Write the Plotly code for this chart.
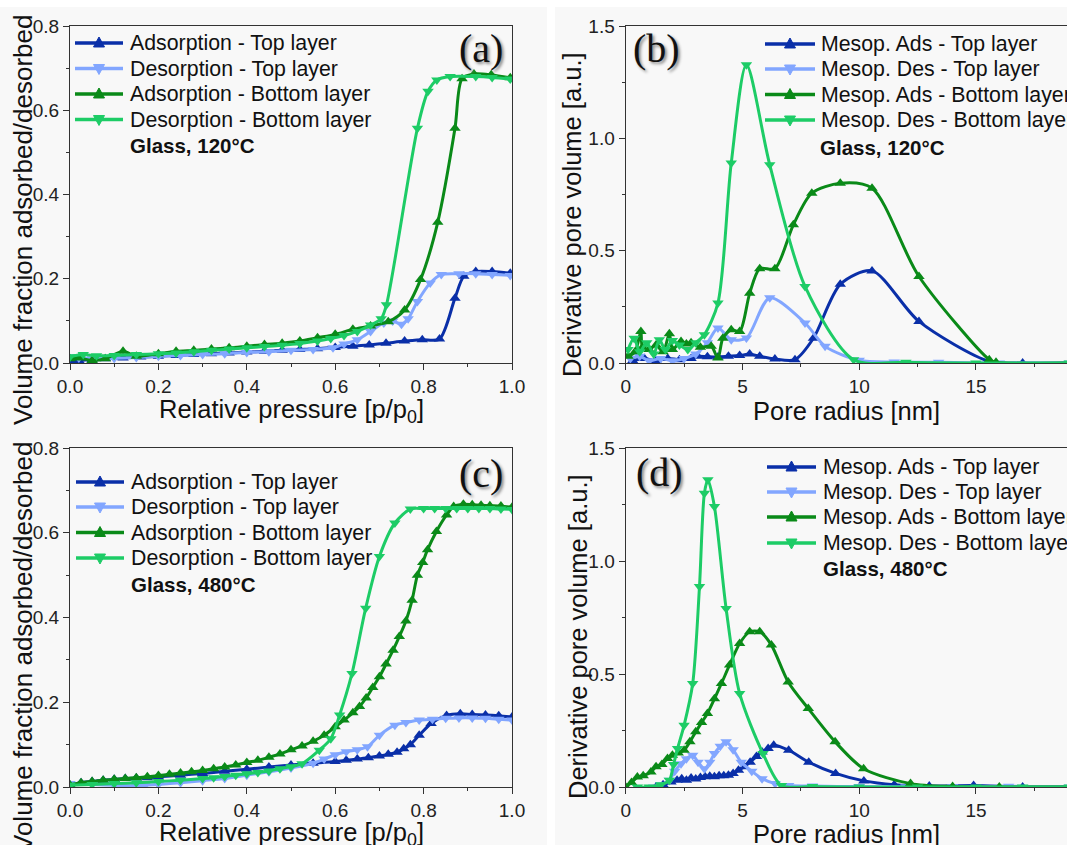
import plotly.graph_objects as go

# ---------------- data ----------------
# (a) Glass, 120 C isotherms
a_ads_top_x = [0.0, 0.02, 0.05, 0.08, 0.12, 0.16, 0.2, 0.24, 0.28, 0.32, 0.36, 0.4, 0.44, 0.48, 0.52, 0.56, 0.6, 0.64, 0.677, 0.715, 0.757, 0.797, 0.836, 0.871, 0.891, 0.918, 0.955, 0.996]
a_ads_top_y = [0.004, 0.006, 0.008, 0.01, 0.012, 0.014, 0.016, 0.018, 0.02, 0.022, 0.024, 0.026, 0.028, 0.03, 0.032, 0.034, 0.037, 0.04, 0.043, 0.047, 0.052, 0.055, 0.057, 0.154, 0.206, 0.217, 0.217, 0.213]
a_des_top_x = [0.996, 0.955, 0.918, 0.88, 0.84, 0.815, 0.786, 0.765, 0.75, 0.73, 0.71, 0.68, 0.65, 0.62, 0.595, 0.55, 0.5, 0.45, 0.4, 0.35, 0.3, 0.25, 0.2, 0.15, 0.1, 0.05, 0.02, 0.0]
a_des_top_y = [0.208, 0.21, 0.212, 0.212, 0.21, 0.19, 0.146, 0.105, 0.092, 0.1, 0.095, 0.075, 0.055, 0.045, 0.036, 0.032, 0.03, 0.027, 0.025, 0.022, 0.02, 0.018, 0.016, 0.013, 0.011, 0.01, 0.012, 0.015]
a_ads_bot_x = [0.0, 0.02, 0.05, 0.08, 0.12, 0.15, 0.2, 0.24, 0.28, 0.32, 0.36, 0.4, 0.44, 0.48, 0.52, 0.56, 0.6, 0.64, 0.68, 0.72, 0.757, 0.793, 0.832, 0.871, 0.887, 0.914, 0.953, 0.996]
a_ads_bot_y = [0.01, 0.012, 0.006, 0.01, 0.028, 0.016, 0.022, 0.028, 0.03, 0.033, 0.036, 0.04, 0.044, 0.047, 0.052, 0.06, 0.068, 0.08, 0.088, 0.098, 0.126, 0.198, 0.334, 0.557, 0.675, 0.686, 0.684, 0.677]
a_des_bot_x = [0.996, 0.955, 0.918, 0.86, 0.83, 0.81, 0.786, 0.716, 0.704, 0.68, 0.65, 0.62, 0.59, 0.56, 0.52, 0.48, 0.44, 0.4, 0.36, 0.32, 0.28, 0.24, 0.2, 0.15, 0.1, 0.06, 0.03, 0.0]
a_des_bot_y = [0.674, 0.678, 0.68, 0.68, 0.672, 0.645, 0.557, 0.138, 0.105, 0.09, 0.075, 0.065, 0.058, 0.052, 0.046, 0.042, 0.039, 0.036, 0.033, 0.03, 0.027, 0.024, 0.022, 0.02, 0.018, 0.017, 0.02, 0.015]

# (b) Glass, 120 C pore size distributions
b_ads_top_x = [0.3, 0.8, 1.3, 1.8, 2.3, 2.8, 3.09, 3.5, 3.95, 4.4, 4.88, 5.31, 5.74, 6.39, 7.25, 8.04, 9.19, 10.55, 12.56, 15.57, 17.0, 19.0]
b_ads_top_y = [0.01, 0.02, 0.01, 0.02, 0.015, 0.02, 0.03, 0.028, 0.027, 0.03, 0.033, 0.04, 0.03, 0.018, 0.015, 0.11, 0.35, 0.41, 0.185, 0.007, 0.0, 0.0]
b_des_top_x = [0.2, 0.6, 1.0, 1.5, 2.0, 2.5, 3.0, 3.5, 3.95, 4.52, 5.17, 6.17, 7.68, 8.54, 10.0, 11.5, 13.4, 16.0, 19.0]
b_des_top_y = [0.02, 0.03, 0.01, 0.02, 0.01, 0.02, 0.04, 0.09, 0.156, 0.104, 0.111, 0.29, 0.178, 0.074, 0.012, 0.004, 0.003, 0.0, 0.0]
b_ads_bot_x = [0.1, 0.4, 0.65, 0.72, 1.0, 1.3, 1.6, 1.87, 2.0, 2.37, 2.6, 2.8, 3.2, 3.66, 3.95, 4.16, 4.52, 4.88, 5.31, 5.74, 6.39, 7.18, 7.97, 9.19, 10.55, 12.56, 15.57, 15.86, 19.0]
b_ads_bot_y = [0.03, 0.05, 0.14, 0.07, 0.06, 0.08, 0.05, 0.13, 0.06, 0.096, 0.085, 0.09, 0.07, 0.075, 0.022, 0.11, 0.148, 0.14, 0.31, 0.42, 0.42, 0.615, 0.756, 0.8, 0.778, 0.385, 0.015, 0.003, 0.0]
b_des_bot_x = [0.1, 0.36, 0.6, 0.9, 1.2, 1.44, 1.7, 2.0, 2.3, 2.66, 3.0, 3.37, 3.95, 4.52, 5.17, 6.17, 7.68, 9.76, 12.0, 15.0, 19.0]
b_des_bot_y = [0.06, 0.11, 0.05, 0.09, 0.04, 0.104, 0.06, 0.1, 0.08, 0.06, 0.09, 0.126, 0.267, 0.89, 1.327, 0.882, 0.341, 0.015, 0.003, 0.0, 0.0]

# (c) Glass, 480 C isotherms
c_ads_top_x = [0.0, 0.025, 0.05, 0.075, 0.1, 0.125, 0.15, 0.175, 0.2, 0.25, 0.3, 0.35, 0.4, 0.45, 0.5, 0.55, 0.6, 0.625, 0.65, 0.675, 0.7, 0.72, 0.74, 0.755, 0.77, 0.79, 0.817, 0.852, 0.883, 0.91, 0.94, 0.97, 1.0]
c_ads_top_y = [0.005, 0.01, 0.013, 0.016, 0.018, 0.02, 0.021, 0.022, 0.024, 0.028, 0.032, 0.037, 0.042, 0.047, 0.052, 0.056, 0.06, 0.063, 0.066, 0.069, 0.073, 0.077, 0.082, 0.09, 0.1, 0.122, 0.15, 0.169, 0.173, 0.171, 0.17, 0.168, 0.165]
c_des_top_x = [1.0, 0.97, 0.94, 0.91, 0.88, 0.85, 0.82, 0.79, 0.76, 0.735, 0.7, 0.673, 0.65, 0.625, 0.6, 0.575, 0.55, 0.5, 0.45, 0.4, 0.35, 0.3, 0.25, 0.2, 0.17, 0.15, 0.1, 0.05, 0.0]
c_des_top_y = [0.158, 0.16, 0.162, 0.163, 0.163, 0.162, 0.16, 0.158, 0.152, 0.146, 0.122, 0.095, 0.088, 0.083, 0.076, 0.066, 0.056, 0.045, 0.036, 0.028, 0.02, 0.015, 0.01, 0.006, 0.004, 0.003, 0.004, 0.006, 0.008]
c_ads_bot_x = [0.0, 0.025, 0.05, 0.075, 0.1, 0.125, 0.15, 0.175, 0.2, 0.225, 0.25, 0.275, 0.3, 0.325, 0.35, 0.375, 0.4, 0.425, 0.45, 0.475, 0.5, 0.525, 0.55, 0.575, 0.6, 0.62, 0.64, 0.655, 0.67, 0.685, 0.7, 0.715, 0.731, 0.745, 0.76, 0.774, 0.786, 0.798, 0.809, 0.829, 0.852, 0.868, 0.89, 0.91, 0.93, 0.95, 0.975, 1.0]
c_ads_bot_y = [0.005, 0.01, 0.013, 0.016, 0.018, 0.02, 0.022, 0.024, 0.027, 0.03, 0.033, 0.036, 0.039, 0.043, 0.047, 0.052, 0.058, 0.063, 0.07, 0.078, 0.088, 0.097, 0.108, 0.122, 0.142, 0.158, 0.175, 0.19, 0.21, 0.235, 0.26, 0.29, 0.323, 0.355, 0.392, 0.441, 0.5, 0.53, 0.56, 0.603, 0.642, 0.662, 0.667, 0.666, 0.665, 0.664, 0.663, 0.66]
c_des_bot_x = [1.0, 0.975, 0.95, 0.925, 0.9, 0.875, 0.85, 0.825, 0.8, 0.77, 0.735, 0.7, 0.669, 0.638, 0.61, 0.59, 0.564, 0.525, 0.5, 0.475, 0.45, 0.425, 0.4, 0.375, 0.35, 0.325, 0.3, 0.25, 0.2, 0.15, 0.1, 0.05, 0.0]
c_des_bot_y = [0.655, 0.656, 0.657, 0.657, 0.657, 0.657, 0.657, 0.657, 0.657, 0.656, 0.623, 0.544, 0.422, 0.268, 0.17, 0.114, 0.087, 0.055, 0.048, 0.043, 0.038, 0.034, 0.031, 0.028, 0.025, 0.022, 0.02, 0.016, 0.013, 0.01, 0.008, 0.006, 0.004]

# (d) Glass, 480 C pore size distributions
d_ads_top_x = [1.3, 1.6, 1.94, 2.2, 2.4, 2.6, 2.8, 3.0, 3.2, 3.4, 3.6, 3.8, 4.0, 4.2, 4.4, 4.6, 4.83, 5.08, 5.33, 5.6, 5.84, 6.1, 6.34, 6.98, 7.84, 8.99, 10.2, 11.5, 13.0, 14.9, 17.0, 19.0]
d_ads_top_y = [0.0, 0.01, 0.022, 0.03, 0.037, 0.03, 0.04, 0.035, 0.042, 0.045, 0.048, 0.045, 0.05, 0.05, 0.052, 0.06, 0.074, 0.09, 0.11, 0.135, 0.155, 0.17, 0.185, 0.163, 0.11, 0.06, 0.027, 0.01, 0.004, 0.007, 0.0, 0.0]
d_des_top_x = [1.2, 1.5, 1.87, 2.1, 2.37, 2.6, 2.87, 3.1, 3.37, 3.6, 3.8, 4.05, 4.3, 4.6, 4.95, 5.4, 5.84, 6.4, 6.98, 8.0, 10.0, 12.0, 14.0, 16.4, 19.0]
d_des_top_y = [0.0, 0.01, 0.03, 0.07, 0.103, 0.125, 0.14, 0.11, 0.081, 0.11, 0.148, 0.18, 0.2, 0.165, 0.11, 0.07, 0.037, 0.015, 0.007, 0.004, 0.002, 0.001, 0.001, 0.003, 0.0]
d_ads_bot_x = [0.0, 0.25, 0.5, 0.75, 1.08, 1.3, 1.55, 1.79, 2.0, 2.25, 2.5, 2.75, 3.0, 3.25, 3.5, 3.8, 4.1, 4.45, 4.88, 5.31, 5.74, 6.24, 6.96, 7.82, 8.97, 10.19, 12.2, 14.0, 16.0, 19.0]
d_ads_bot_y = [0.0, 0.02, 0.044, 0.05, 0.066, 0.09, 0.1, 0.126, 0.14, 0.15, 0.163, 0.2, 0.244, 0.285, 0.325, 0.39, 0.458, 0.54, 0.635, 0.687, 0.687, 0.628, 0.465, 0.347, 0.2, 0.081, 0.015, 0.002, 0.0, 0.0]
d_des_bot_x = [0.5, 1.0, 1.5, 1.87, 2.05, 2.22, 2.5, 2.87, 3.16, 3.37, 3.52, 3.8, 4.3, 4.88, 5.88, 6.67, 8.0, 10.0, 12.5, 15.0, 17.0, 19.0]
d_des_bot_y = [0.0, 0.0, 0.01, 0.03, 0.1, 0.17, 0.273, 0.458, 0.887, 1.3, 1.36, 1.241, 0.79, 0.414, 0.148, 0.007, 0.002, 0.0, 0.0, 0.0, 0.0, 0.0]

iso_names = ["Adsorption - Top layer", "Desorption - Top layer",
             "Adsorption - Bottom layer", "Desorption - Bottom layer"]
psd_names = ["Mesop. Ads - Top layer", "Mesop. Des - Top layer",
             "Mesop. Ads - Bottom layer", "Mesop. Des - Bottom layer"]
colors = ["#0a2fa8", "#82a6ff", "#0a8a18", "#1dcc66"]
symbols = ["triangle-up", "triangle-down", "triangle-up", "triangle-down"]

# ---------------- figure ----------------
W, H = 1067, 845
ML, MR, MT, MB = 70, 0, 26, 58
PW, PH = W - ML - MR, H - MT - MB


def px(x):
    return (x - ML) / PW


def py(y):
    return (H - MB - y) / PH


fig = go.Figure()

panels = [
    ("x", "y", iso_names,
     [(a_ads_top_x, a_ads_top_y), (a_des_top_x, a_des_top_y),
      (a_ads_bot_x, a_ads_bot_y), (a_des_bot_x, a_des_bot_y)]),
    ("x2", "y2", psd_names,
     [(b_ads_top_x, b_ads_top_y), (b_des_top_x, b_des_top_y),
      (b_ads_bot_x, b_ads_bot_y), (b_des_bot_x, b_des_bot_y)]),
    ("x3", "y3", iso_names,
     [(c_ads_top_x, c_ads_top_y), (c_des_top_x, c_des_top_y),
      (c_ads_bot_x, c_ads_bot_y), (c_des_bot_x, c_des_bot_y)]),
    ("x4", "y4", psd_names,
     [(d_ads_top_x, d_ads_top_y), (d_des_top_x, d_des_top_y),
      (d_ads_bot_x, d_ads_bot_y), (d_des_bot_x, d_des_bot_y)]),
]

for xa, ya, names, series in panels:
    for i, (xs, ys) in enumerate(series):
        fig.add_trace(go.Scatter(
            x=xs, y=ys, xaxis=xa, yaxis=ya, name=names[i], showlegend=False,
            mode="lines+markers",
            line=dict(color=colors[i], width=3, shape="spline", smoothing=0.8),
            marker=dict(symbol=symbols[i], size=10, color=colors[i]),
        ))

BG = "#f8f8f8"
FAM = "Liberation Sans, Arial, sans-serif"
tickfont = dict(family=FAM, size=19, color="#222")


def axis_style(rng, dtick, minor_dtick, domain, anchor, fmt, mirror=True):
    return dict(range=rng, dtick=dtick, tick0=0, domain=domain, anchor=anchor,
                showline=True, linecolor="#333", linewidth=1.3, mirror=mirror,
                ticks="outside", ticklen=6, tickwidth=1.3, tickcolor="#333",
                minor=dict(dtick=minor_dtick, ticks="outside", ticklen=3,
                           tickwidth=1.2, tickcolor="#333"),
                showgrid=False, zeroline=False, tickfont=tickfont, tickformat=fmt,
                automargin=False)


xL = [0, px(512)]
xR = [px(625.7), 1.0]
yT = [py(363), py(26)]
yB = [0, py(448)]
XR = [0, 18.9]

fig.update_layout(
    width=W, height=H, autosize=False,
    margin=dict(l=ML, r=MR, t=MT, b=MB, pad=0, autoexpand=False),
    paper_bgcolor=BG, plot_bgcolor=BG,
    showlegend=False,
    xaxis=axis_style([0, 1], 0.2, 0.1, xL, "y", ".1f"),
    yaxis=axis_style([0, 0.8], 0.2, 0.1, yT, "x", ".1f"),
    xaxis2=axis_style(XR, 5, 2.5, xR, "y2", "d"),
    yaxis2=axis_style([0, 1.5], 0.5, 0.25, yT, "x2", ".1f", mirror=False),
    xaxis3=axis_style([0, 1], 0.2, 0.1, xL, "y3", ".1f"),
    yaxis3=axis_style([0, 0.8], 0.2, 0.1, yB, "x3", ".1f"),
    xaxis4=axis_style(XR, 5, 2.5, xR, "y4", "d"),
    yaxis4=axis_style([0, 1.5], 0.5, 0.25, yB, "x4", ".1f", mirror=False),
)

annos = []
shapes = [
    dict(type="rect", xref="paper", yref="paper", x0=px(547), x1=px(555), y0=py(H), y1=py(0),
         fillcolor="white", line=dict(width=0), layer="below"),
    dict(type="rect", xref="paper", yref="paper", x0=px(0), x1=px(W), y0=py(7), y1=py(0),
         fillcolor="white", line=dict(width=0), layer="below"),
]

# legends (line sample + marker + text), one block per panel
legend_blocks = [
    (iso_names, 75, 123, 128, [43, 68.5, 94, 119.5]),
    (psd_names, 765, 815, 819, [44, 69, 94.5, 120]),
    (iso_names, 76, 124, 129, [482, 507, 532.5, 558]),
    (psd_names, 767, 816, 821, [467, 492, 517, 543]),
]
legfont = dict(family=FAM, size=21.3, color="#111")
for names, lx0, lx1, tx, rows in legend_blocks:
    cx = (lx0 + lx1) / 2
    for i, (nm, ry) in enumerate(zip(names, rows)):
        shapes.append(dict(type="line", xref="paper", yref="paper",
                           x0=px(lx0), x1=px(lx1), y0=py(ry), y1=py(ry),
                           line=dict(color=colors[i], width=3.5)))
        if symbols[i] == "triangle-up":
            pts = [(cx, ry - 6), (cx - 5.5, ry + 4), (cx + 5.5, ry + 4)]
        else:
            pts = [(cx, ry + 6), (cx - 5.5, ry - 4), (cx + 5.5, ry - 4)]
        path = "M %f,%f L %f,%f L %f,%f Z" % tuple(v for p in pts for v in (px(p[0]), py(p[1])))
        shapes.append(dict(type="path", xref="paper", yref="paper", path=path,
                           fillcolor=colors[i], line=dict(color=colors[i], width=1)))
        annos.append(dict(text=nm, xref="paper", yref="paper", x=px(tx), y=py(ry),
                          xanchor="left", yanchor="middle", showarrow=False, font=legfont))

# sample labels
for text, x, y in [("Glass, 120°C", 128, 146), ("Glass, 120°C", 818, 147),
                   ("Glass, 480°C", 129, 584), ("Glass, 480°C", 821, 568)]:
    annos.append(dict(text="<b>%s</b>" % text, xref="paper", yref="paper",
                      x=px(x), y=py(y), xanchor="left", yanchor="middle", showarrow=False,
                      font=dict(family=FAM, size=20.5, color="#111")))
# panel letters
for text, x, y in [("(a)", 481, 48), ("(b)", 656, 48), ("(c)", 481, 473), ("(d)", 659, 472)]:
    annos.append(dict(text=text, xref="paper", yref="paper", x=px(x), y=py(y),
                      xanchor="center", yanchor="middle", showarrow=False,
                      font=dict(family="Liberation Serif, Times New Roman, serif", size=40,
                                color="#111", shadow="2px 2px 3px #888")))
# axis titles
tfont = dict(family=FAM, size=25.5, color="#111")
for text, x, y in [("Relative pressure [p/p<sub>0</sub>]", 291, 411),
                   ("Pore radius [nm]", 846, 411),
                   ("Relative pressure [p/p<sub>0</sub>]", 291, 834),
                   ("Pore radius [nm]", 846, 834)]:
    annos.append(dict(text=text, xref="paper", yref="paper", x=px(x), y=py(y),
                      xanchor="center", yanchor="middle", showarrow=False, font=tfont))
for text, x, y, s in [("Volume fraction adsorbed/desorbed", 23, 220, 26),
                      ("Derivative pore volume [a.u.]", 572, 215, 25.5),
                      ("Volume fraction adsorbed/desorbed", 23, 647, 26),
                      ("Derivative pore volume [a.u.]", 578, 637, 25.5)]:
    annos.append(dict(text=text, xref="paper", yref="paper", x=px(x), y=py(y),
                      xanchor="center", yanchor="middle", showarrow=False, textangle=-90,
                      font=dict(family=FAM, size=s, color="#111")))

fig.update_layout(annotations=annos, shapes=shapes)

fig.write_html("out.html",
               config={"displayModeBar": False, "responsive": False},
               post_script="document.body.style.margin='0';document.body.style.overflow='hidden';")
